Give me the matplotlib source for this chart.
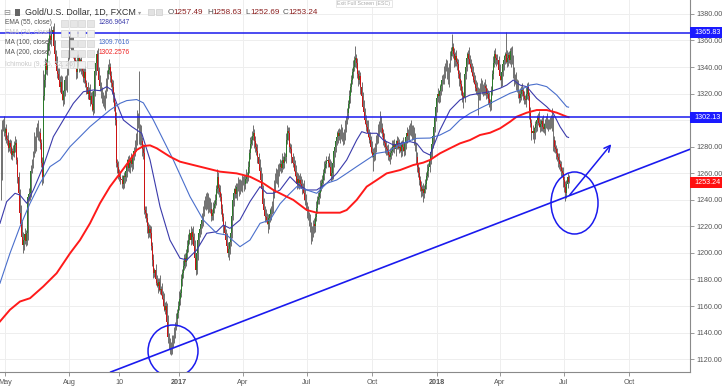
import numpy as np
import matplotlib.pyplot as plt
from matplotlib.patches import Ellipse, Rectangle
from matplotlib.transforms import blended_transform_factory

plt.rcParams['font.family'] = ['Liberation Sans', 'DejaVu Sans']

# daily bars, gold / usd (fxcm), one close per bar
first_open = 1290
closes = [
    1258, 1296, 1298, 1290, 1293, 1286, 1285, 1279, 1283, 1280,
    1274, 1277, 1275, 1281, 1283, 1270, 1257, 1245, 1230, 1222,
    1212, 1206, 1210, 1214, 1209, 1215, 1242, 1244, 1245, 1262,
    1268, 1275, 1285, 1280, 1291, 1295, 1288, 1290, 1283, 1268,
    1257, 1318, 1330, 1343, 1338, 1352, 1358, 1364, 1360, 1365,
    1368, 1356, 1350, 1342, 1337, 1335, 1330, 1325, 1329, 1320,
    1315, 1322, 1330, 1326, 1337, 1350, 1357, 1362, 1355, 1360,
    1350, 1345, 1342, 1336, 1344, 1347, 1340, 1345, 1340, 1337,
    1332, 1336, 1328, 1325, 1320, 1322, 1315, 1318, 1312, 1308,
    1322, 1337, 1343, 1350, 1337, 1330, 1326, 1320, 1318, 1315,
    1312, 1320, 1327, 1335, 1338, 1340, 1333, 1328, 1325, 1318,
    1310, 1300, 1268, 1265, 1260, 1257, 1256, 1255, 1252, 1258,
    1257, 1262, 1266, 1270, 1264, 1268, 1270, 1267, 1273, 1277,
    1280, 1286, 1302, 1298, 1285, 1292, 1284, 1278, 1275, 1232,
    1230, 1226, 1220, 1215, 1218, 1215, 1205, 1195, 1185, 1187,
    1180, 1177, 1175, 1178, 1172, 1173, 1168, 1165, 1160, 1157,
    1160, 1148, 1137, 1132, 1130, 1127, 1133, 1135, 1140, 1145,
    1150, 1155, 1160, 1165, 1170, 1180, 1185, 1190, 1196, 1193,
    1200, 1205, 1210, 1215, 1210, 1216, 1212, 1205, 1196, 1187,
    1200, 1210, 1215, 1218, 1222, 1225, 1232, 1236, 1240, 1236,
    1242, 1235, 1238, 1233, 1228, 1230, 1234, 1237, 1240, 1248,
    1257, 1249, 1246, 1242, 1233, 1227, 1220, 1215, 1210, 1205,
    1200, 1203, 1208, 1215, 1228, 1240, 1245, 1248, 1244, 1250,
    1253, 1248, 1252, 1250, 1254, 1255, 1252, 1256, 1258, 1257,
    1265, 1275, 1282, 1285, 1288, 1290, 1284, 1280, 1277, 1272,
    1267, 1262, 1255, 1248, 1237, 1232, 1228, 1227, 1225, 1222,
    1226, 1229, 1232, 1235, 1245, 1250, 1257, 1260, 1255, 1262,
    1265, 1267, 1264, 1270, 1268, 1272, 1272, 1285, 1292, 1290,
    1280, 1278, 1272, 1268, 1267, 1262, 1258, 1252, 1256, 1253,
    1255, 1252, 1248, 1250, 1245, 1240, 1235, 1230, 1228, 1225,
    1220, 1213, 1215, 1222, 1220, 1227, 1234, 1240, 1242, 1245,
    1250, 1253, 1255, 1260, 1264, 1267, 1269, 1270, 1268, 1265,
    1258, 1260, 1268, 1277, 1280, 1284, 1287, 1290, 1288, 1290,
    1292, 1287, 1285, 1290, 1295, 1300, 1305, 1312, 1318, 1325,
    1330, 1336, 1340, 1345, 1347, 1343, 1335, 1330, 1333, 1325,
    1318, 1310, 1306, 1300, 1297, 1295, 1290, 1287, 1285, 1280,
    1276, 1272, 1275, 1280, 1285, 1287, 1292, 1296, 1300, 1294,
    1290, 1285, 1283, 1280, 1278, 1277, 1274, 1272, 1275, 1277,
    1280, 1282, 1278, 1282, 1284, 1281, 1279, 1280, 1277, 1282,
    1280, 1277, 1283, 1287, 1290, 1288, 1292, 1295, 1293, 1289,
    1292, 1285, 1280, 1272, 1265, 1260, 1255, 1250, 1247, 1248,
    1245, 1248, 1252, 1258, 1262, 1265, 1270, 1276, 1282, 1288,
    1295, 1302, 1310, 1317, 1320, 1318, 1322, 1326, 1330, 1332,
    1336, 1340, 1342, 1335, 1330, 1340, 1348, 1352, 1355, 1350,
    1345, 1348, 1344, 1342, 1335, 1331, 1327, 1322, 1318, 1317,
    1335, 1340, 1347, 1350, 1346, 1342, 1340, 1336, 1333, 1330,
    1327, 1324, 1322, 1318, 1320, 1325, 1327, 1323, 1322, 1326,
    1324, 1320, 1320, 1316, 1313, 1312, 1322, 1335, 1343, 1350,
    1347, 1345, 1345, 1338, 1333, 1330, 1336, 1342, 1345, 1348,
    1350, 1344, 1347, 1349, 1345, 1352, 1346, 1335, 1330, 1332,
    1328, 1325, 1320, 1317, 1320, 1323, 1322, 1318, 1316, 1315,
    1320, 1325, 1318, 1305, 1298, 1290, 1292, 1290, 1294, 1297,
    1300, 1302, 1298, 1295, 1297, 1299, 1295, 1293, 1297, 1300,
    1298, 1296, 1297, 1299, 1297, 1300, 1285, 1280, 1278, 1275,
    1272, 1270, 1267, 1265, 1262, 1260, 1255, 1250, 1245, 1252,
    1257.49, 1253.24,
]

# upper / lower shadow length of each bar
wick_up = [
    3, 4, 3, 5, 2, 4, 3, 6, 2, 3, 5, 2, 4, 3, 5, 3, 2, 4, 3, 6, 2, 4, 3, 5,
    3, 4, 2, 5, 3, 4, 3, 2, 6, 3, 4, 3, 5, 2, 4, 3, 4, 20, 5, 4, 3, 6, 4, 5,
    4, 6, 3, 5, 4, 3, 6, 2, 4, 3, 5, 4, 3, 6, 3, 4, 5, 3, 6, 4, 3, 5, 4, 3,
    4, 3, 5, 3, 4, 2, 5, 3, 4, 3, 5, 2, 4, 3, 5, 3, 4, 2, 5, 4, 6, 3, 4, 3,
    4, 3, 5, 3, 4, 3, 5, 3, 4, 6, 3, 4, 3, 5, 3, 4, 6, 3, 4, 3, 5, 3, 4, 3,
    4, 3, 5, 3, 4, 3, 5, 3, 4, 3, 5, 4, 6, 3, 39, 5, 4, 3, 4, 6, 3, 5, 4, 3,
    4, 3, 5, 3, 4, 2, 5, 3, 4, 3, 5, 2, 4, 3, 5, 3, 4, 2, 5, 3, 4, 3, 5, 3,
    4, 3, 5, 3, 4, 6, 3, 4, 3, 5, 3, 4, 3, 5, 4, 3, 5, 3, 4, 3, 5, 4, 3, 5,
    3, 4, 3, 5, 3, 4, 3, 5, 4, 3, 4, 3, 5, 3, 4, 3, 4, 3, 6, 4, 3, 5, 3, 4,
    3, 4, 3, 5, 3, 4, 3, 5, 4, 3, 4, 3, 5, 3, 4, 3, 4, 3, 5, 3, 4, 3, 5, 3,
    4, 3, 5, 3, 4, 6, 3, 4, 3, 5, 3, 4, 3, 5, 3, 4, 3, 5, 3, 4, 3, 5, 3, 4,
    3, 5, 3, 4, 3, 5, 3, 4, 3, 5, 3, 4, 3, 5, 4, 3, 5, 3, 4, 3, 5, 3, 4, 3,
    4, 3, 5, 3, 4, 3, 5, 3, 4, 3, 5, 3, 4, 3, 5, 3, 4, 3, 5, 3, 4, 3, 5, 3,
    4, 3, 5, 3, 4, 3, 5, 3, 4, 3, 5, 3, 4, 3, 5, 3, 4, 3, 5, 3, 4, 3, 5, 3,
    4, 3, 5, 3, 4, 3, 5, 3, 9, 3, 4, 3, 5, 3, 4, 3, 5, 3, 4, 3, 5, 3, 4, 3,
    4, 3, 5, 3, 4, 3, 5, 3, 7, 3, 4, 3, 5, 3, 4, 3, 5, 3, 4, 3, 5, 3, 4, 3,
    4, 3, 5, 3, 4, 3, 5, 3, 4, 3, 5, 3, 4, 3, 5, 3, 4, 3, 5, 3, 4, 3, 5, 3,
    4, 3, 5, 3, 4, 3, 5, 3, 4, 3, 5, 3, 4, 3, 5, 3, 4, 3, 5, 3, 4, 3, 5, 3,
    4, 3, 5, 3, 4, 3, 10, 3, 4, 3, 5, 3, 4, 3, 5, 3, 4, 3, 5, 3, 4, 3, 5, 3,
    4, 3, 5, 3, 4, 3, 5, 3, 4, 3, 5, 3, 4, 3, 5, 3, 4, 3, 5, 3, 4, 3, 5, 3,
    4, 3, 5, 3, 4, 3, 5, 3, 4, 3, 16, 3, 4, 3, 5, 3, 4, 3, 5, 3, 4, 3, 5, 3,
    4, 3, 5, 3, 4, 3, 5, 3, 4, 3, 5, 3, 4, 3, 5, 3, 4, 3, 5, 3, 4, 3, 5, 3,
    4, 3, 5, 3, 4, 3, 5, 9, 4, 3, 5, 3, 4, 3, 5, 3, 4, 3, 5, 3, 4, 3, 3, 1.14,
]
wick_dn = [
    18, 3, 4, 2, 5, 3, 4, 3, 2, 5, 3, 4, 2, 3, 5, 3, 4, 3, 5, 4, 3, 6, 4, 3,
    4, 3, 5, 3, 4, 3, 2, 4, 3, 5, 3, 4, 3, 4, 5, 3, 6, 4, 3, 5, 3, 4, 3, 5,
    3, 4, 5, 3, 4, 3, 5, 4, 3, 4, 3, 5, 4, 3, 4, 3, 5, 3, 4, 3, 5, 4, 3, 4,
    3, 5, 4, 3, 4, 3, 5, 4, 3, 4, 3, 5, 4, 3, 4, 3, 5, 4, 3, 4, 3, 5, 4, 3,
    4, 3, 5, 4, 3, 4, 3, 5, 4, 3, 4, 3, 5, 4, 3, 4, 3, 5, 4, 3, 4, 6, 4, 3,
    4, 3, 5, 4, 3, 4, 3, 5, 4, 3, 4, 3, 5, 4, 3, 4, 3, 5, 4, 3, 4, 3, 5, 4,
    3, 4, 3, 5, 4, 3, 4, 3, 5, 4, 3, 4, 3, 5, 4, 3, 4, 3, 5, 4, 6, 4, 3, 4,
    3, 4, 3, 5, 4, 3, 4, 3, 5, 4, 3, 4, 3, 5, 4, 3, 4, 3, 5, 4, 3, 4, 3, 5,
    4, 3, 4, 3, 5, 4, 3, 4, 3, 5, 4, 3, 4, 3, 5, 4, 3, 4, 3, 5, 4, 3, 4, 3,
    5, 4, 3, 4, 3, 5, 4, 3, 4, 3, 5, 4, 3, 4, 3, 5, 4, 3, 4, 3, 5, 4, 3, 4,
    3, 5, 4, 3, 4, 3, 5, 4, 3, 4, 3, 5, 4, 3, 4, 3, 5, 4, 3, 7, 4, 3, 4, 3,
    5, 4, 3, 4, 3, 5, 4, 3, 4, 3, 5, 4, 3, 4, 3, 5, 4, 3, 4, 3, 5, 4, 3, 4,
    3, 5, 4, 3, 4, 3, 5, 4, 3, 4, 3, 5, 4, 6, 4, 3, 5, 4, 3, 4, 3, 5, 4, 3,
    4, 3, 5, 4, 3, 4, 3, 5, 4, 3, 4, 3, 5, 4, 3, 4, 3, 5, 4, 3, 4, 3, 5, 4,
    3, 4, 3, 5, 4, 3, 4, 3, 5, 4, 3, 4, 3, 5, 4, 3, 4, 3, 5, 4, 3, 4, 3, 5,
    4, 10, 3, 5, 4, 3, 4, 3, 5, 4, 3, 4, 3, 5, 4, 3, 4, 3, 5, 4, 3, 4, 3, 5,
    4, 3, 4, 3, 5, 4, 3, 4, 3, 5, 4, 3, 4, 3, 5, 4, 3, 4, 3, 5, 4, 3, 4, 3,
    5, 4, 7, 4, 3, 4, 3, 5, 4, 3, 4, 3, 5, 4, 3, 4, 3, 5, 4, 3, 4, 3, 5, 4,
    3, 4, 3, 5, 4, 3, 4, 3, 5, 4, 3, 4, 3, 5, 4, 3, 4, 8, 3, 4, 3, 5, 4, 3,
    4, 3, 4, 3, 5, 4, 3, 14, 3, 5, 4, 3, 4, 3, 5, 4, 3, 4, 3, 5, 4, 3, 4, 3,
    5, 4, 3, 4, 3, 5, 4, 3, 4, 3, 5, 4, 3, 4, 3, 5, 4, 3, 4, 3, 5, 4, 3, 4,
    3, 5, 4, 3, 4, 3, 5, 4, 3, 4, 3, 5, 4, 7, 4, 3, 5, 4, 3, 4, 3, 5, 4, 3,
    4, 3, 5, 4, 3, 4, 3, 5, 8, 4, 3, 4, 3, 5, 4, 3, 4, 3, 5, 4, 6, 4, 3, 0.55,
]

# indicator curves (bar, value)
ema55 = [(-1, 1222.3), (5.5, 1238.6), (13.6, 1244.9), (18.4, 1243.6), (25, 1237.4),
         (31.4, 1247.4), (41, 1265.0), (50.8, 1287.5), (60.5, 1300.1), (70.2, 1312.6),
         (80, 1321.4), (89.6, 1322.7), (96, 1322.2), (102.6, 1325.2), (107.5, 1322.7),
         (112.3, 1312.6), (118.8, 1300.1), (126.9, 1295.1), (131.7, 1292.6), (136.6, 1290.1),
         (144.7, 1270.0), (154.4, 1234.8), (164, 1209.7), (173.8, 1196.0), (180.3, 1194.7),
         (190, 1202.2), (199.7, 1214.8), (209.4, 1216.0), (215.9, 1221.0), (222.3, 1218.5),
         (232, 1224.8), (241.7, 1238.6), (251.5, 1249.9), (258, 1244.9), (264.4, 1244.9),
         (270.9, 1247.4), (280.6, 1257.4), (287, 1252.4), (296.8, 1247.4), (306.5, 1247.4),
         (316.2, 1252.4), (326, 1259.9), (335.6, 1270.0), (345.3, 1285.0), (350.2, 1291.3),
         (355, 1290.1), (364.8, 1290.1), (371.2, 1285.0), (381, 1281.3), (387.4, 1282.5),
         (397.1, 1283.8), (403.6, 1282.5), (410, 1276.2), (416.5, 1273.7), (419.7, 1280.0),
         (426.2, 1292.6), (435.9, 1307.6), (445.6, 1315.2), (455.3, 1318.9), (465, 1320.2),
         (474.8, 1321.4), (484.5, 1324.0), (491, 1326.4), (497.4, 1330.2), (503.9, 1326.4),
         (510.4, 1325.2), (520.1, 1316.4), (529.8, 1310.1), (536.2, 1305.1), (542.7, 1295.1),
         (549.2, 1287.5), (551, 1286.96)]
ma100 = [(-1, 1177.2), (8.7, 1199.7), (18.4, 1219.8), (28.2, 1237.4), (37.9, 1252.4),
         (47.6, 1265.0), (57.3, 1270.0), (67, 1280.0), (76.7, 1287.5), (86.4, 1295.1),
         (96.1, 1301.4), (105.8, 1307.6), (115.5, 1312.6), (122, 1314.7), (131.7, 1315.5),
         (138.2, 1313.0), (147.9, 1300.1), (167.3, 1270.0), (183.5, 1242.4), (196.4, 1224.8),
         (209.4, 1214.8), (219.1, 1213.5), (232, 1204.7), (241.7, 1209.7), (251.5, 1222.3),
         (261.2, 1224.8), (270.9, 1237.0), (277.4, 1242.4), (287.1, 1249.9), (296.8, 1247.4),
         (306.5, 1244.9), (316.2, 1252.4), (325.9, 1254.9), (335.6, 1259.9), (345.3, 1265.0),
         (355, 1270.0), (364.8, 1275.0), (374.4, 1276.2), (384.2, 1280.0), (393.9, 1283.8),
         (403.6, 1286.3), (416.5, 1286.5), (426.2, 1288.8), (435.9, 1292.6), (445.6, 1300.1),
         (455.3, 1305.1), (465, 1308.9), (474.8, 1312.6), (484.5, 1316.4), (494.2, 1320.2),
         (503.9, 1322.7), (513.6, 1326.4), (520.1, 1327.2), (529.8, 1325.2), (539.5, 1318.9),
         (549.2, 1310.1), (551, 1309.76)]
ma200 = [(-1, 1148.4), (8.7, 1157.2), (18.4, 1163.4), (28.2, 1165.9), (41, 1174.7),
         (54, 1184.7), (67, 1199.7), (76.7, 1209.7), (86.4, 1222.3), (96.1, 1237.4),
         (105.8, 1249.9), (115.5, 1259.9), (125.2, 1270.0), (131.7, 1277.5), (138.2, 1280.5),
         (144.7, 1281.0), (151.2, 1278.8), (164, 1272.5), (173.8, 1268.7), (186.7, 1266.2),
         (199.7, 1263.7), (212.6, 1261.2), (228.8, 1259.9), (241.7, 1257.4), (254.7, 1252.4),
         (264.4, 1247.4), (274.1, 1243.6), (283.8, 1239.9), (296.8, 1232.3), (306.5, 1230.3),
         (329.1, 1230.3), (335.6, 1232.3), (345.3, 1239.9), (355, 1249.9), (364.8, 1254.9),
         (374.4, 1259.9), (387.4, 1262.4), (400.3, 1266.2), (410, 1268.0), (416.5, 1270.0),
         (426.2, 1275.0), (435.9, 1278.8), (445.6, 1282.5), (455.3, 1285.0), (465, 1288.8),
         (474.8, 1290.5), (484.5, 1293.8), (494.2, 1298.8), (500.7, 1302.6), (510.4, 1305.6),
         (520.1, 1307.6), (529.8, 1307.6), (539.5, 1305.6), (549.2, 1302.6), (551, 1302.26)]

# hand drawn objects on the chart
levels = [1365.83, 1302.13]
trend = [(387.4, 1194.1), (667.0, 1277.5)]
circles = [((167.0, 1126.1), 48.5, 39.2), ((556.8, 1237.6), 45.6, 46.7)]
arrow = [(550.5, 1242.1), (594.2, 1283.5)]

# axis labels
month_pos = [3.9, 66, 114.6, 172.8, 235, 297, 360.2, 423.3, 484.5, 546.6, 609.7]
month_lab = ['May', 'Aug', '10', '2017', 'Apr', 'Jul', 'Oct', '2018', 'Apr', 'Jul', 'Oct']
price_ticks = list(range(1120, 1381, 20))
last_ohlc = [('O', '1257.49'), ('H', '1258.63'), ('L', '1252.69'), ('C', '1253.24')]
legend_rows = [('EMA (55, close)', '1286.9647', '#3b3bab', True),
               ('EMA (34, close)', '', '#c8c8d4', False),
               ('MA (100, close)', '1309.7616', '#4169c8', True),
               ('MA (200, close)', '1302.2576', '#ee2222', True),
               ('Ichimoku (9, 26, 52, 26)', '', '#d2d2d2', False)]

W, H = 722, 389
BLUE = '#1a1aee'

fig = plt.figure(figsize=(W / 100, H / 100), dpi=100)
ax = fig.add_axes([0, 17 / H, 690 / W, 372 / H])

c = np.array(closes, dtype=float)
o = np.concatenate([[first_open], c[:-1]])
x = np.arange(len(c))
hi = np.maximum(o, c) + np.array(wick_up)
lo = np.minimum(o, c) - np.array(wick_dn)
up = c >= o

ax.vlines(x, lo, hi, color='#5a5a5a', lw=0.6, zorder=2)
body = np.maximum(np.abs(c - o), 0.4)
ax.bar(x, body, bottom=np.minimum(o, c), width=0.75,
       color=np.where(up, '#2a7a2a', '#cc1414'), linewidth=0, zorder=3)

for pts, col, lw in [(ema55, '#3b3bab', 0.8), (ma100, '#4a6fcc', 0.8), (ma200, '#ff1a1a', 1.4)]:
    px, py = zip(*pts)
    ax.plot(px, py, color=col, lw=lw, zorder=4)

for lv in levels:
    ax.axhline(lv, color=BLUE, lw=1.1, zorder=5)
ax.axline(trend[0], trend[1], color=BLUE, lw=1.2, zorder=5)
for (cx, cy), w, h in circles:
    ax.add_patch(Ellipse((cx, cy), w, h, fill=False, ec=BLUE, lw=1.1, zorder=5))
ax.annotate('', xy=arrow[1], xytext=arrow[0],
            arrowprops=dict(arrowstyle='->', color=BLUE, lw=1.1, mutation_scale=11), zorder=5)

ax.set_xlim(-0.97, 668.9)
ax.set_ylim(1110.33, 1390.46)
ax.set_xticks(month_pos)
ax.set_xticklabels(month_lab)
for t in ax.get_xticklabels():
    if t.get_text() in ('2017', '2018'):
        t.set_fontweight('bold')
ax.set_yticks(price_ticks)
ax.set_yticklabels([f'{v:.2f}' for v in price_ticks])
ax.yaxis.tick_right()
ax.tick_params(axis='y', length=3, width=0.6, color='#888888', labelsize=5.2,
               labelcolor='#555555', pad=1.5)
ax.tick_params(axis='x', length=3, width=0.6, color='#888888', labelsize=5.2,
               labelcolor='#555555', pad=2)
ax.grid(True, color='#eeeeee', lw=0.7)
ax.set_axisbelow(True)
for s in ['top', 'left']:
    ax.spines[s].set_visible(False)
for s in ['right', 'bottom']:
    ax.spines[s].set_color('#8a8a8a')
    ax.spines[s].set_linewidth(0.8)

# price tags on the scale
tr = blended_transform_factory(ax.transAxes, ax.transData)
for lv, fc in [(levels[0], '#1a1aff'), (levels[1], '#1a1aff'), (1253.24, '#ff1010')]:
    ax.add_patch(Rectangle((1.0, lv - 4.2), 32 / 690, 8.4, transform=tr, fc=fc,
                           ec='none', clip_on=False, zorder=6))
    ax.text(1.0 + 4 / 690, lv, f'{lv:.2f}', transform=tr, ha='left', va='center',
            fontsize=5.2, color='white', clip_on=False, zorder=7)


def fxy(px, py):
    return px / W, 1 - py / H


def box(px, py, w, h, fc, ec):
    fig.add_artist(Rectangle(fxy(px, py + h), w / W, h / H, transform=fig.transFigure,
                             fc=fc, ec=ec, lw=0.5))


# header
fig.text(*fxy(3, 12.5), '⊟', fontsize=6, color='#888888', va='center', family='DejaVu Sans')
box(15, 9, 5, 7, '#666666', 'none')
fig.text(*fxy(25, 12.5), 'Gold/U.S. Dollar, 1D, FXCM', fontsize=6.4, color='#333333', va='center')
fig.text(*fxy(138, 12.5), '▾', fontsize=4.5, color='#999999', va='center', family='DejaVu Sans')
box(148, 9, 6, 6, '#e2e2e2', '#cccccc')
box(156, 9, 6, 6, '#e2e2e2', '#cccccc')
for (lab, val), xs in zip(last_ohlc, [168, 207, 245, 283]):
    fig.text(*fxy(xs, 12.5), lab, fontsize=5.9, color='#555555', va='center')
    fig.text(*fxy(xs + 5.8, 12.5), val, fontsize=5.9, color='#8b2020', va='center')
fig.text(*fxy(364, 3.5), 'Exit Full Screen (ESC)', fontsize=3.8, color='#aaaaaa', ha='center',
         va='center', bbox=dict(fc='white', ec='#dddddd', lw=0.5, pad=1))

# indicator legend
for (name, val, col, on), ys in zip(legend_rows, [23, 33, 43, 53, 64]):
    fig.text(*fxy(5, ys), name, fontsize=4.8, color='#555555' if on else '#c8c8c8', va='center')
    for k in range(4):
        box(61 + 8.5 * k, ys - 3.5, 7, 7, '#e6e6e6' if on else '#f0f0f0', '#d4d4d4')
    if val:
        fig.text(*fxy(99, ys), val, fontsize=4.8, color=col, va='center')

fig.savefig('out.png', dpi=100)
